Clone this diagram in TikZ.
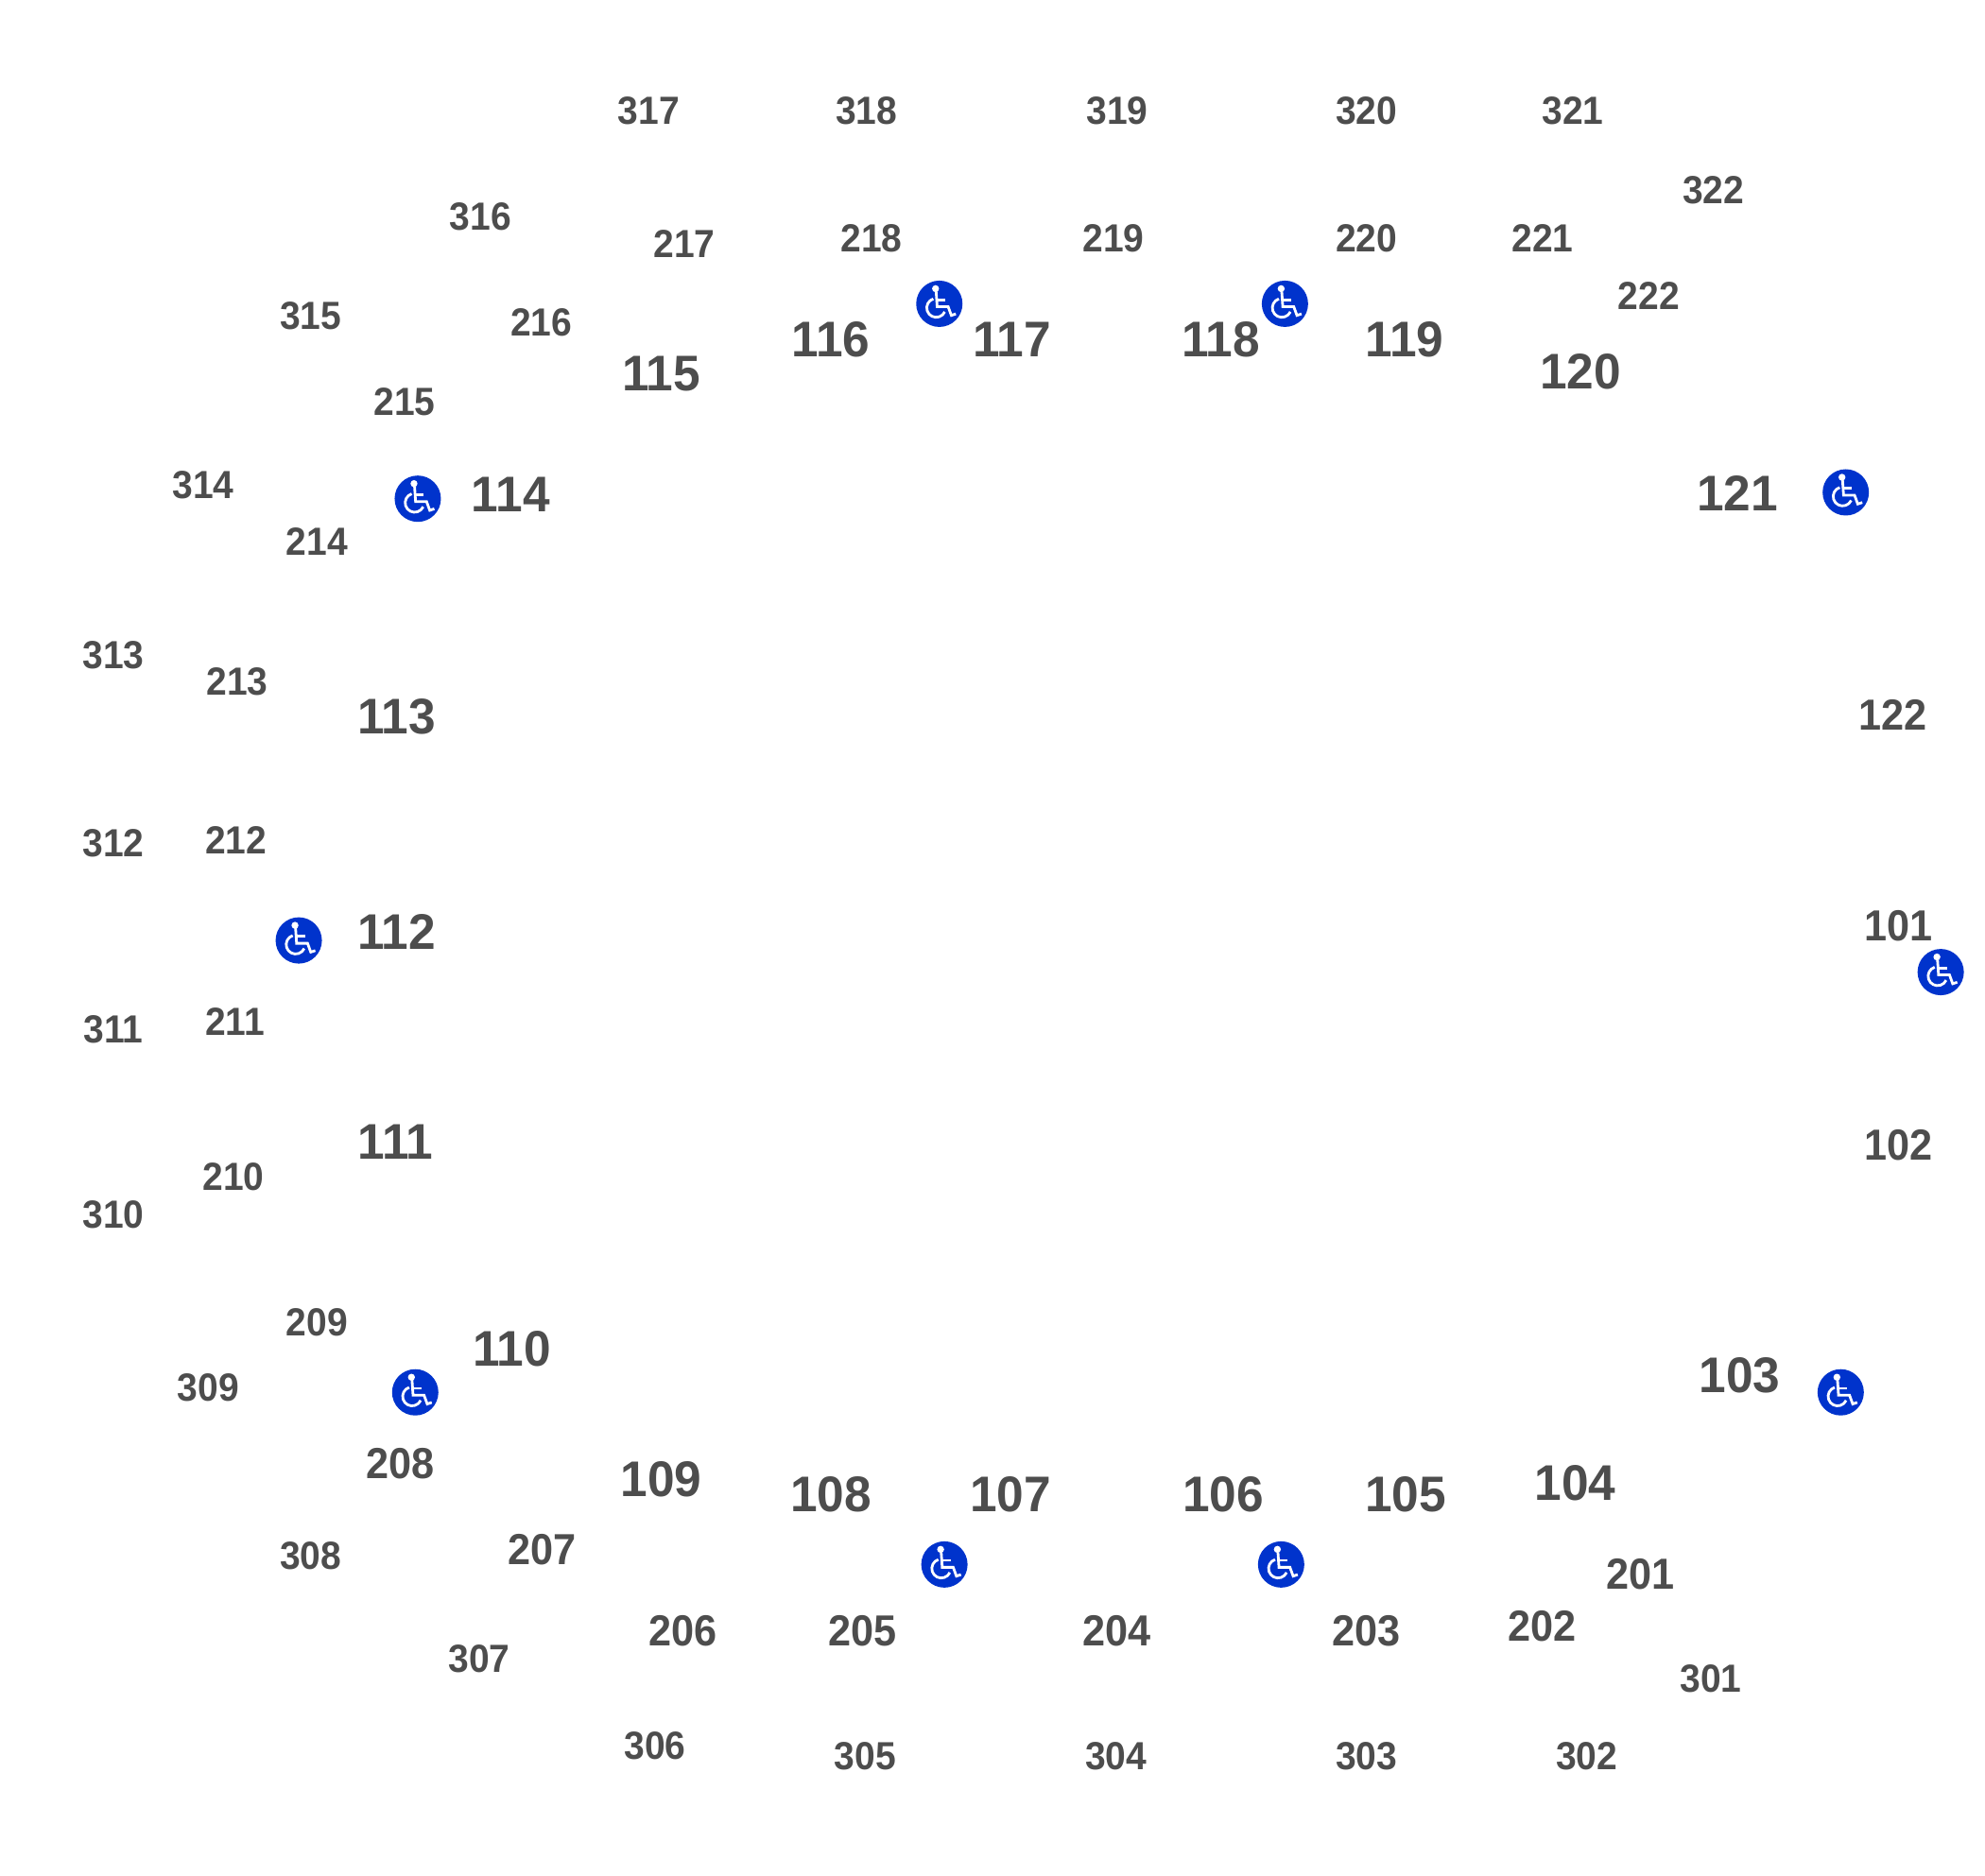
\documentclass[tikz,border=0pt]{standalone}
\usepackage{fontspec}
\setmainfont{Liberation Sans}
\newfontfamily\bignum[FakeStretch=0.97]{Liberation Sans}
\newfontfamily\smallnum[FakeStretch=0.94]{Liberation Sans}
\usepackage{xcolor}
\definecolor{seatgrey}{HTML}{4D4D4D}
\definecolor{accessblue}{HTML}{0033CC}
\tikzset{
	numbig/.style={text=seatgrey, font=\bignum\bfseries\fontsize{53}{53}\selectfont, inner sep=0pt, xshift=0.5pt, yshift=0.7pt},
	nummid/.style={text=seatgrey, font=\smallnum\bfseries\fontsize{46}{46}\selectfont, inner sep=0pt, xshift=0.7pt, yshift=0.7pt},
	numsmall/.style={text=seatgrey, font=\smallnum\bfseries\fontsize{41.5}{41.5}\selectfont, inner sep=0pt, xshift=0.7pt, yshift=0.7pt},
	accessicon/.style={circle, fill=accessblue, inner sep=0pt, minimum size=49pt, path picture={
		\begin{scope}[shift={(path picture bounding box.center)}, x=1pt, y=-1pt, white, line width=2.8pt]
			\fill (-4,-16) circle (3.7pt);
			\draw (-3.4,-13) -- (-2.3,3) -- (9.3,3) -- (12.7,12.3) -- (17.5,10.7);
			\draw (-3,-4.3) -- (6.5,-4.3);
			\draw (-6.4,-5.2) arc[start angle=252, end angle=25, radius=10];
		\end{scope}
	}}
}

\begin{document}
\begin{tikzpicture}[x=1.3393pt, y=-1.3393pt]
	\useasboundingbox (0,0) rectangle (1568,1481.4);

	% lower ring
	\node[nummid] (n101) at (1499,732) {101};
	\node[nummid] (n102) at (1499,905) {102};
	\node[numbig] (n103) at (1374,1087) {103};
	\node[numbig] (n104) at (1244,1172) {104};
	\node[numbig] (n105) at (1110,1181) {105};
	\node[numbig] (n106) at (966,1181) {106};
	\node[numbig] (n107) at (798,1181) {107};
	\node[numbig] (n108) at (656,1181) {108};
	\node[numbig] (n109) at (522,1169) {109};
	\node[numbig] (n110) at (404,1066) {110};
	\node[numbig] (n111) at (312,903) {111};
	\node[numbig] (n112) at (313,737) {112};
	\node[numbig] (n113) at (313,567) {113};
	\node[numbig] (n114) at (403,391) {114};
	\node[numbig] (n115) at (522,296) {115};
	\node[numbig] (n116) at (656,269) {116};
	\node[numbig] (n117) at (799,269) {117};
	\node[numbig] (n118) at (964,269) {118};
	\node[numbig] (n119) at (1109,269) {119};
	\node[numbig] (n120) at (1248,294) {120};
	\node[numbig] (n121) at (1372,390) {121};
	\node[nummid] (n122) at (1495,565) {122};

	% middle ring
	\node[nummid] (n201) at (1295,1244) {201};
	\node[nummid] (n202) at (1218,1285) {202};
	\node[nummid] (n203) at (1079,1289) {203};
	\node[nummid] (n204) at (882,1289) {204};
	\node[nummid] (n205) at (681,1289) {205};
	\node[nummid] (n206) at (539,1289) {206};
	\node[nummid] (n207) at (428,1225) {207};
	\node[nummid] (n208) at (316,1157) {208};
	\node[numsmall] (n209) at (250,1045) {209};
	\node[numsmall] (n210) at (184,930) {210};
	\node[numsmall] (n211) at (185,808) {211};
	\node[numsmall] (n212) at (186,664) {212};
	\node[numsmall] (n213) at (187,539) {213};
	\node[numsmall] (n214) at (250,428) {214};
	\node[numsmall] (n215) at (319,318) {215};
	\node[numsmall] (n216) at (427,255) {216};
	\node[numsmall] (n217) at (540,193) {217};
	\node[numsmall] (n218) at (688,189) {218};
	\node[numsmall] (n219) at (879,189) {219};
	\node[numsmall] (n220) at (1079,189) {220};
	\node[numsmall] (n221) at (1218,189) {221};
	\node[numsmall] (n222) at (1302,234) {222};

	% outer ring
	\node[numsmall] (n301) at (1351,1327) {301};
	\node[numsmall] (n302) at (1253,1388) {302};
	\node[numsmall] (n303) at (1079,1388) {303};
	\node[numsmall] (n304) at (881,1388) {304};
	\node[numsmall] (n305) at (683,1388) {305};
	\node[numsmall] (n306) at (517,1380) {306};
	\node[numsmall] (n307) at (378,1311) {307};
	\node[numsmall] (n308) at (245,1230) {308};
	\node[numsmall] (n309) at (164,1097) {309};
	\node[numsmall] (n310) at (89,960) {310};
	\node[numsmall] (n311) at (89,814) {311};
	\node[numsmall] (n312) at (89,667) {312};
	\node[numsmall] (n313) at (89,518) {313};
	\node[numsmall] (n314) at (160,384) {314};
	\node[numsmall] (n315) at (245,250) {315};
	\node[numsmall] (n316) at (379,172) {316};
	\node[numsmall] (n317) at (512,88) {317};
	\node[numsmall] (n318) at (684,88) {318};
	\node[numsmall] (n319) at (882,88) {319};
	\node[numsmall] (n320) at (1079,88) {320};
	\node[numsmall] (n321) at (1242,88) {321};
	\node[numsmall] (n322) at (1353,151) {322};

	% wheelchair spaces
	\node[accessicon] (a1) at (1533,768) {};
	\node[accessicon] (a2) at (1454,1100) {};
	\node[accessicon] (a3) at (1012,1236) {};
	\node[accessicon] (a4) at (746,1236) {};
	\node[accessicon] (a5) at (328,1100) {};
	\node[accessicon] (a6) at (236,743) {};
	\node[accessicon] (a7) at (330,394) {};
	\node[accessicon] (a8) at (742,240) {};
	\node[accessicon] (a9) at (1015,240) {};
	\node[accessicon] (a10) at (1458,389) {};
\end{tikzpicture}
\end{document}
